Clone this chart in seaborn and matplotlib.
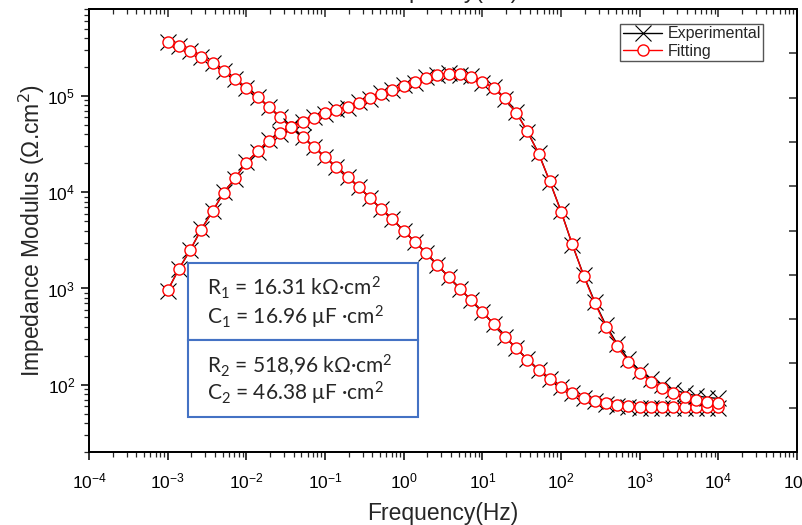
import numpy as np
import pandas as pd
import matplotlib
matplotlib.use("Agg")
import matplotlib.pyplot as plt
import seaborn as sns
from matplotlib.patches import Rectangle
from matplotlib.ticker import LogLocator, NullFormatter, MultipleLocator

# ---------------- data ----------------
freq = [0.001, 0.001389, 0.001931, 0.002683, 0.003728, 0.005179, 0.007197,
        0.01, 0.01389, 0.01931, 0.02683, 0.03728, 0.05179, 0.07197,
        0.1, 0.1389, 0.1931, 0.2683, 0.3728, 0.5179, 0.7197,
        1.0, 1.389, 1.931, 2.683, 3.728, 5.179, 7.197,
        10.0, 13.89, 19.31, 26.83, 37.28, 51.79, 71.97,
        100.0, 138.9, 193.1, 268.3, 372.8, 517.9, 719.7,
        1000.0, 1389.0, 1931.0, 2683.0, 3728.0, 5179.0, 7197.0,
        10000.0]

modulus_fit = [3.64e5, 3.30e5, 2.93e5, 2.54e5, 2.20e5, 1.82e5, 1.50e5, 1.21e5, 9.77e4, 7.70e4,
               6.06e4, 4.77e4, 3.75e4, 2.96e4, 2.33e4, 1.83e4, 1.44e4, 1.14e4, 8730, 6710,
               5290, 3970, 3050, 2350, 1760, 1320, 993, 764, 573, 430,
               315, 243, 182, 143, 116, 95.5, 82.7, 73.4, 68.4, 65.2,
               62.1, 60.7, 59.3, 59.3, 59.2, 59.2, 59.1, 59.1, 59.0, 59.0]

modulus_exp = [3.66e5, 3.28e5, 2.95e5, 2.52e5, 2.21e5, 1.81e5, 1.51e5, 1.20e5, 9.80e4, 7.68e4,
               6.08e4, 4.75e4, 3.77e4, 2.95e4, 2.34e4, 1.82e4, 1.45e4, 1.13e4, 8760, 6690,
               5310, 3960, 3060, 2340, 1770, 1310, 996, 760, 575, 428,
               316, 241, 183, 142, 115, 94.5, 81.5, 72.2, 67.0, 63.8,
               60.8, 59.3, 58.0, 57.9, 57.8, 57.8, 57.7, 57.7, 57.6, 57.6]

phase_fit = [26.6, 31.2, 35.7, 40.2, 44.5, 48.5, 51.9, 55.3, 58.0, 60.3,
             61.9, 63.4, 64.6, 65.5, 66.6, 67.3, 67.9, 68.8, 69.8, 70.9,
             71.8, 72.7, 73.6, 74.5, 75.2, 75.4, 75.4, 74.7, 73.6, 72.2,
             69.8, 66.6, 62.5, 57.3, 51.2, 44.2, 37.0, 29.8, 23.7, 18.3,
             14.0, 10.4, 7.9, 5.9, 4.5, 3.4, 2.5, 1.8, 1.4, 1.1]

phase_exp = [26.4, 31.4, 35.5, 40.4, 44.3, 48.7, 51.7, 55.5, 57.8, 60.5,
             61.7, 63.6, 64.4, 65.7, 66.4, 67.5, 67.7, 69.0, 69.6, 71.1,
             71.6, 72.9, 73.4, 74.7, 75.0, 75.6, 75.2, 74.9, 73.4, 72.4,
             69.6, 66.8, 62.3, 57.5, 51.0, 44.4, 36.8, 30.0, 23.9, 18.6,
             14.4, 10.9, 8.4, 6.5, 5.2, 4.1, 3.3, 2.7, 2.3, 2.1]

legend_labels = ["Experimental", "Fitting"]
box_texts = [r"R$\mathregular{_1}$ = 16.31 kΩ·cm$\mathregular{^2}$",
             r"C$\mathregular{_1}$ = 16.96 μF ·cm$\mathregular{^2}$",
             r"R$\mathregular{_2}$ = 518,96 kΩ·cm$\mathregular{^2}$",
             r"C$\mathregular{_2}$ = 46.38 μF ·cm$\mathregular{^2}$"]

df = pd.DataFrame({"freq": freq, "mod_exp": modulus_exp, "mod_fit": modulus_fit,
                   "ph_exp": phase_exp, "ph_fit": phase_fit})

# ---------------- style ----------------
sns.set_style("ticks")
plt.rcParams["font.family"] = ["Liberation Sans", "DejaVu Sans"]

fig, ax = plt.subplots(figsize=(8.02, 5.25), dpi=100)
fig.subplots_adjust(left=0.111, right=0.9938, bottom=0.139, top=0.9829)
ax.set_xscale("log")
ax.set_yscale("log")
ax2 = ax.twinx()

exp_kw = dict(color="black", marker="x", markersize=11, markeredgewidth=0.8,
              linewidth=1.0, markeredgecolor="black")
fit_kw = dict(color="red", marker="o", markersize=8, markerfacecolor="white",
              markeredgecolor="red", markeredgewidth=1.0, linewidth=1.0)

sns.lineplot(data=df, x="freq", y="mod_exp", ax=ax, label=legend_labels[0], **exp_kw)
sns.lineplot(data=df, x="freq", y="mod_fit", ax=ax, label=legend_labels[1], **fit_kw)
sns.lineplot(data=df, x="freq", y="ph_exp", ax=ax2, **exp_kw)
sns.lineplot(data=df, x="freq", y="ph_fit", ax=ax2, **fit_kw)

if ax.get_legend() is not None:
    ax.get_legend().remove()
if ax2.get_legend() is not None:
    ax2.get_legend().remove()

ax.set_xlim(1e-4, 1e5)
ax.set_ylim(20, 8e5)
ax2.set_ylim(-10, 90)

ax.xaxis.set_major_locator(LogLocator(base=10, numticks=20))
ax.xaxis.set_minor_locator(LogLocator(base=10, subs=np.arange(2, 10) * 1.0, numticks=200))
ax.xaxis.set_minor_formatter(NullFormatter())
ax.yaxis.set_major_locator(LogLocator(base=10, numticks=20))
ax.yaxis.set_minor_locator(LogLocator(base=10, subs=np.arange(2, 10) * 1.0, numticks=200))
ax.yaxis.set_minor_formatter(NullFormatter())

ax.tick_params(which="major", direction="out", length=6, width=1.1, labelsize=12.5,
               colors="black", top=False, right=False)
ax.tick_params(which="minor", direction="out", length=3.5, width=0.9, top=False, right=False)
ax.tick_params(axis="x", which="major", pad=8)
ax.tick_params(axis="y", which="major", pad=4)

ax2.yaxis.set_major_locator(MultipleLocator(10))
ax2.tick_params(axis="y", direction="in", length=6, width=1.1, labelright=False)
ax2.set_ylabel("")

secax = ax.secondary_xaxis("top")
secax.xaxis.set_major_locator(LogLocator(base=10, numticks=20))
secax.xaxis.set_minor_locator(LogLocator(base=10, subs=np.arange(2, 10) * 1.0, numticks=200))
secax.xaxis.set_major_formatter(NullFormatter())
secax.xaxis.set_minor_formatter(NullFormatter())
secax.tick_params(which="major", direction="in", length=6, width=1.1)
secax.tick_params(which="minor", direction="in", length=3.5, width=0.9)

for a in (ax, ax2):
    for s in a.spines.values():
        s.set_linewidth(1.3)
        s.set_color("black")
for s in secax.spines.values():
    s.set_linewidth(1.3)

ax.set_xlabel("Frequency(Hz)", fontsize=16.5, labelpad=8)
ax.set_ylabel("Impedance Modulus (Ω.cm$^2$)", fontsize=16.5, labelpad=0)

fig.text((0.111 + 0.9938) / 2, 1 + 2 / 525, "Frequency(Hz)", fontsize=16.5,
         ha="center", va="baseline")

# legend
h = ax.get_lines()
leg = ax2.legend(h[:2], legend_labels, loc="upper right", bbox_to_anchor=(0.952, 0.966),
                 borderaxespad=0, fancybox=False, framealpha=1, edgecolor="#555555",
                 fontsize=11.5, handlelength=2.5, handletextpad=0.3, borderpad=0.15,
                 labelspacing=0.15, numpoints=1)
leg.get_frame().set_linewidth(1.0)

# parameter boxes
box_col = "#4472C4"
for yb in (0.2528, 0.079):
    ax2.add_patch(Rectangle((0.1398, yb), 0.3249, 0.1738, transform=ax2.transAxes,
                            facecolor="white", edgecolor=box_col, linewidth=1.5, zorder=5))
for txt, yy in zip(box_texts, (0.3544, 0.2889, 0.179, 0.1158)):
    ax2.text(0.1667, yy, txt, transform=ax2.transAxes, fontsize=15,
             family="Lato", ha="left", va="baseline", zorder=6)

fig.savefig("out.png", dpi=100)
